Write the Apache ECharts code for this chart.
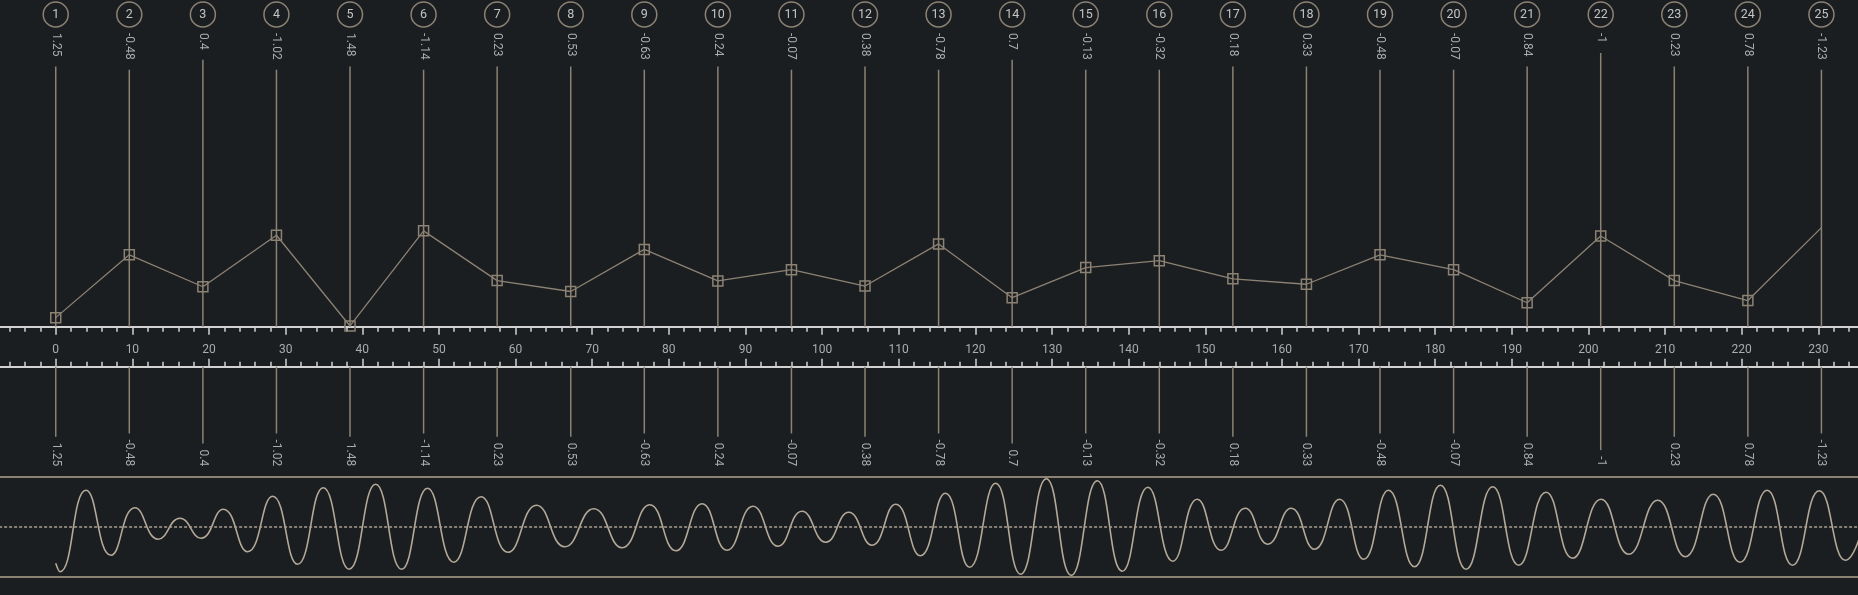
<!DOCTYPE html>
<html><head><meta charset="utf-8">
<script src="https://cdn.jsdelivr.net/npm/echarts@6/dist/echarts.min.js"></script>
<style>html,body{margin:0;padding:0;background:#1b1e21;overflow:hidden}#c{width:1858px;height:595px}</style>
</head><body><div id="c"></div>
<script>
// ---- data ----
const itemNumbers = [1,2,3,4,5,6,7,8,9,10,11,12,13,14,15,16,17,18,19,20,21,22,23,24,25];
const itemPositions = [0,9.6,19.2,28.8,38.4,48,57.6,67.2,76.8,86.4,96,105.6,115.2,124.8,134.4,144,153.6,163.2,172.8,182.4,192,201.6,211.2,220.8,230.4];
const itemValues = [1.25,-0.48,0.4,-1.02,1.48,-1.14,0.23,0.53,-0.63,0.24,-0.07,0.38,-0.78,0.7,-0.13,-0.32,0.18,0.33,-0.48,-0.07,0.84,-1,0.23,0.78,-1.23];
// waveform extrema (x in axis units, y normalised -1..1)
const waveX = [0,0.56,3.95,7.21,10.34,13.38,16.21,18.95,21.86,25.04,28.3,31.56,34.9,38.29,41.74,45.13,48.52,51.95,55.51,59.03,62.74,66.43,70.21,73.9,77.51,80.91,84.34,87.6,90.99,94.25,97.38,100.47,103.47,106.51,109.6,112.82,116.08,119.25,122.64,125.9,129.26,132.52,135.91,139.17,142.51,145.77,148.95,152.08,155.21,158.16,161.21,164.25,167.51,170.68,173.9,177.29,180.68,184.03,187.51,190.9,194.47,197.94,201.64,205.25,209.03,212.64,216.29,219.77,223.3,226.63,230.12,233.51,236.9];
const waveY = [-0.73,-0.9,0.73,-0.57,0.38,-0.25,0.17,-0.23,0.35,-0.5,0.61,-0.75,0.78,-0.85,0.85,-0.85,0.77,-0.71,0.6,-0.51,0.43,-0.4,0.36,-0.42,0.44,-0.48,0.46,-0.47,0.41,-0.39,0.31,-0.31,0.29,-0.37,0.45,-0.58,0.67,-0.81,0.87,-0.95,0.96,-0.97,0.92,-0.89,0.79,-0.69,0.55,-0.47,0.37,-0.35,0.37,-0.45,0.55,-0.65,0.73,-0.8,0.83,-0.85,0.8,-0.77,0.69,-0.63,0.55,-0.55,0.53,-0.6,0.65,-0.71,0.73,-0.77,0.72,-0.67,0.68];
const xMin = -10, xMax = 240, xInterval = 10;

// ---- style ----
const BG = '#1b1e21';
const TAN = '#8c8274';
const WAVE = '#b4a999';
const AXIS = '#d2d2d2';
const TEXT = '#aaacae';
const FONT = 'Roboto, sans-serif';
const ctx = document.createElement('canvas').getContext('2d');
function textWidth(s, size) { ctx.font = size + 'px ' + FONT; return ctx.measureText(s).width; }

const gridL = -20.9, gridR = -37;
const chart = echarts.init(document.getElementById('c'), null, {renderer: 'canvas'});

function axisBase(grid, pos, labels) {
  return {
    type: 'value', gridIndex: grid, position: pos, min: xMin, max: xMax, interval: xInterval,
    axisLine: {onZero: false, lineStyle: {color: AXIS, width: 2}},
    axisTick: {show: true, length: 8, lineStyle: {color: AXIS, width: 1.5}},
    minorTick: {show: true, splitNumber: 5, length: 5, lineStyle: {color: AXIS, width: 1.5}},
    axisLabel: labels ? {show: true, color: TEXT, fontSize: 12, fontFamily: FONT, margin: 17, showMinLabel: false, showMaxLabel: false} : {show: false},
    splitLine: {show: false}, minorSplitLine: {show: false}
  };
}
function borderAxis(pos) {
  return {
    type: 'value', gridIndex: 2, position: pos, min: xMin, max: xMax,
    axisLine: {onZero: false, lineStyle: {color: TAN, width: 2}},
    axisTick: {show: false}, axisLabel: {show: false}, splitLine: {show: false}
  };
}
function grid(top, height) {
  return {left: gridL, right: gridR, top: top, height: height, containLabel: false, outerBoundsMode: 'none'};
}

const option = {
  backgroundColor: BG,
  animation: false,
  grid: [grid(0, 326.7), grid(366.7, 100), grid(476.7, 100)],
  xAxis: [axisBase(0, 'bottom', true), axisBase(1, 'top', false), borderAxis('top'), borderAxis('bottom')],
  yAxis: [
    {type: 'value', gridIndex: 0, inverse: true, min: -7.5, max: 1.5, show: false},
    {type: 'value', gridIndex: 1, min: 0, max: 1, show: false},
    {type: 'value', gridIndex: 2, min: -1, max: 1, show: false}
  ],
  series: [
    {
      type: 'custom', xAxisIndex: 0, yAxisIndex: 0, z: 1, silent: true,
      data: itemPositions.map((x, i) => [x, itemValues[i], itemNumbers[i]]),
      renderItem: function (params, api) {
        const cs = params.coordSys;
        const px = api.coord([api.value(0), 0])[0];
        const label = String(api.value(1));
        const w = textWidth(label, 12);
        const labelTop = cs.y + 33;
        return {
          type: 'group', children: [
            {type: 'circle', shape: {cx: px, cy: cs.y + 14.5, r: 12.5}, style: {fill: 'none', stroke: TAN, lineWidth: 1.5}},
            {type: 'text', x: px, y: cs.y + 14.5, style: {text: String(api.value(2)), fill: '#c4c4c4', fontSize: 12.5, fontFamily: FONT, align: 'center', verticalAlign: 'middle'}},
            {type: 'text', x: px, y: labelTop, rotation: -Math.PI / 2, style: {text: label, fill: TEXT, fontSize: 12, fontFamily: FONT, align: 'left', verticalAlign: 'middle'}},
            {type: 'line', shape: {x1: px, y1: labelTop + w + 10, x2: px, y2: cs.y + cs.height}, style: {stroke: TAN, lineWidth: 1.5}}
          ]
        };
      }
    },
    {
      type: 'line', xAxisIndex: 0, yAxisIndex: 0, z: 3,
      data: itemPositions.map((x, i) => i === itemPositions.length - 1 ? {value: [x, itemValues[i]], symbol: 'none'} : [x, itemValues[i]]),
      symbol: 'rect', symbolSize: 10,
      lineStyle: {color: TAN, width: 1.3},
      itemStyle: {color: 'rgba(0,0,0,0)', borderColor: TAN, borderWidth: 1.5}
    },
    {
      type: 'custom', xAxisIndex: 1, yAxisIndex: 1, z: 1, silent: true,
      data: itemPositions.map((x, i) => [x, 0, itemValues[i]]),
      renderItem: function (params, api) {
        const cs = params.coordSys;
        const px = api.coord([api.value(0), 0])[0];
        const label = String(api.value(2));
        const w = textWidth(label, 12);
        const labelBottom = cs.y + 99.5;
        return {
          type: 'group', children: [
            {type: 'line', shape: {x1: px, y1: cs.y, x2: px, y2: labelBottom - w - 6}, style: {stroke: TAN, lineWidth: 1.5}},
            {type: 'text', x: px, y: labelBottom, rotation: -Math.PI / 2, style: {text: label, fill: TEXT, fontSize: 12, fontFamily: FONT, align: 'right', verticalAlign: 'middle'}}
          ]
        };
      }
    },
    {
      type: 'line', xAxisIndex: 2, yAxisIndex: 2, z: 3,
      data: waveX.map((x, i) => [x, waveY[i]]),
      smooth: 0.5, showSymbol: false, symbol: 'none', clip: true,
      lineStyle: {color: WAVE, width: 1.6},
      markLine: {
        silent: true, symbol: ['none', 'none'], label: {show: false},
        lineStyle: {color: '#a89e90', width: 1.5, type: [3, 2]},
        data: [{yAxis: 0}]
      }
    }
  ]
};
chart.setOption(option);
</script>
</body></html>
